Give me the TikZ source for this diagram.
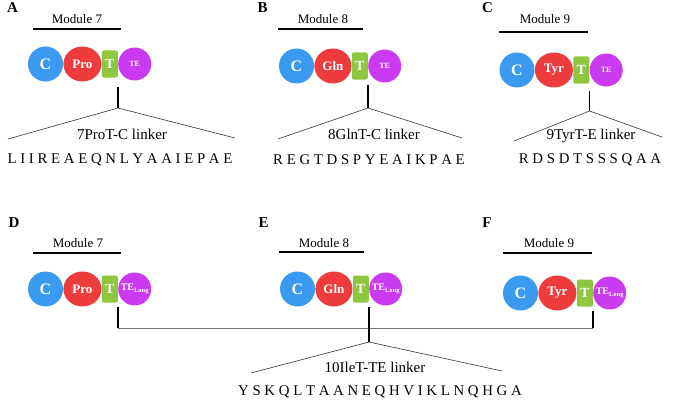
\documentclass[tikz,border=0pt]{standalone}
\usepackage{fontspec}
\setmainfont{Liberation Serif}
\usetikzlibrary{shapes.geometric, positioning, calc}

\definecolor{cblue}{HTML}{3A9AF0}
\definecolor{aared}{HTML}{EE3B3E}
\definecolor{tgreen}{HTML}{8DC63F}
\definecolor{tepurple}{HTML}{C93AF0}

\newcommand{\telong}{TE\raisebox{-2.5pt}{\fontsize{6.5}{6.5}\selectfont Long}}

\begin{document}
\begin{tikzpicture}[
    x=1pt, y=-1pt,
    node distance=0pt,
    every node/.style={inner sep=0pt},
    cdom/.style={circle, fill=cblue, minimum size=35pt, text=white, font=\fontsize{16}{16}\selectfont\bfseries},
    aadom/.style={ellipse, fill=aared, minimum width=38pt, minimum height=35pt, text=white, font=\fontsize{13}{13}\selectfont\bfseries},
    tdom/.style={rectangle, rounded corners=2pt, fill=tgreen, minimum width=16pt, minimum height=27pt, text=white, font=\fontsize{14}{14}\selectfont\bfseries},
    tedom/.style={circle, fill=tepurple, minimum size=33pt, text=white, font=\fontsize{8}{8}\selectfont\bfseries},
    tedomlong/.style={tedom, font=\fontsize{10}{10}\selectfont\bfseries},
    panel/.style={font=\fontsize{15}{15}\selectfont\bfseries},
    modlabel/.style={font=\fontsize{13}{13}\selectfont},
    modbar/.style={line width=1.8pt},
    stem/.style={line width=1.6pt},
    splay/.style={line width=0.6pt, black!80},
    joinline/.style={line width=0.8pt, black!55},
    linker/.style={font=\fontsize{15}{15}\selectfont},
    seq/.style={font=\fontsize{14.8}{14.8}\selectfont}
]
\useasboundingbox (0,0) rectangle (685,404);

% Panel A
\node (panA) [panel] at (12.5,8) {A};
\node (modA) [modlabel] at (77,19) {Module 7};
\draw [modbar] (33,29) -- (121,29);
\node (cA) [cdom] at (45.5,64) {C};
\node (aaA) [aadom, right=of cA] {Pro};
\node (tA) [tdom, right=of aaA] {T};
\node (teA) [tedom, right=of tA] {TE};
\coordinate (apexA) at (tA.south east |- 0,108);
\coordinate (leftA) at (8,139);
\coordinate (rightA) at (235,138);
\draw [stem, shorten <=9pt] (tA.south east) -- (apexA);
\draw [splay] (leftA) -- (apexA) -- (rightA);
\node (lnkA) [linker] at (122,134) {7ProT-C linker};
\node (seqA) [seq] at (120,160) {L I I R E A E Q N L Y A A I E P A E};

% Panel B
\node (panB) [panel] at (262.5,8) {B};
\node (modB) [modlabel] at (323,19) {Module 8};
\draw [modbar] (278,29) -- (363,29);
\node (cB) [cdom] at (296.5,66) {C};
\node (aaB) [aadom, minimum width=37pt, right=of cB] {Gln};
\node (tB) [tdom, right=of aaB] {T};
\node (teB) [tedom, right=of tB] {TE};
\coordinate (apexB) at (tB.south east |- 0,108);
\coordinate (leftB) at (278,139);
\coordinate (rightB) at (462,138);
\draw [stem, shorten <=5pt] (tB.south east) -- (apexB);
\draw [splay] (leftB) -- (apexB) -- (rightB);
\node (lnkB) [linker] at (374,134) {8GlnT-C linker};
\node (seqB) [seq] at (369,160) {R E G T D S P Y E A I K P A E};

% Panel C
\node (panC) [panel] at (487.5,8) {C};
\node (modC) [modlabel] at (545,19) {Module 9};
\draw [modbar] (499,32) -- (588,32);
\node (cC) [cdom] at (517,70) {C};
\node (aaC) [aadom, right=of cC] {Tyr};
\node (tC) [tdom, right=of aaC] {T};
\node (teC) [tedom, right=of tC] {TE};
\coordinate (apexC) at (tC.south east |- 0,111);
\coordinate (leftC) at (514,141);
\coordinate (rightC) at (662,137);
\draw [stem, shorten <=7pt] (tC.south east) -- (apexC);
\draw [splay] (leftC) -- (apexC) -- (rightC);
\node (lnkC) [linker] at (591,136) {9TyrT-E linker};
\node (seqC) [seq] at (590,160) {R D S D T S S S Q A A};

% Panel D
\node (panD) [panel] at (14,222.5) {D};
\node (modD) [modlabel] at (78,243) {Module 7};
\draw [modbar] (33,253) -- (121,253);
\node (cD) [cdom] at (45.5,289) {C};
\node (aaD) [aadom, right=of cD] {Pro};
\node (tD) [tdom, right=of aaD] {T};
\node (teD) [tedomlong, right=of tD] {\telong};

% Panel E
\node (panE) [panel] at (263.5,222.5) {E};
\node (modE) [modlabel] at (324,243) {Module 8};
\draw [modbar] (279,252) -- (364,252);
\node (cE) [cdom] at (297.5,289) {C};
\node (aaE) [aadom, minimum width=37pt, right=of cE] {Gln};
\node (tE) [tdom, right=of aaE] {T};
\node (teE) [tedomlong, right=of tE] {\telong};

% Panel F
\node (panF) [panel] at (487,223) {F};
\node (modF) [modlabel] at (549,243) {Module 9};
\draw [modbar] (503,253) -- (592,253);
\node (cF) [cdom] at (520.5,293) {C};
\node (aaF) [aadom, right=of cF] {Tyr};
\node (tF) [tdom, right=of aaF] {T};
\node (teF) [tedomlong, right=of tF] {\telong};

% Shared TE linker
\coordinate (joinD) at (tD.south east |- 0,328);
\coordinate (joinF) at (tF.south east |- 0,328);
\coordinate (apexE) at (tE.south east |- 0,342);
\coordinate (leftE) at (251,373);
\coordinate (rightE) at (502,371);
\draw [joinline] (joinD) -- (joinF);
\draw [stem, shorten <=4pt] (tD.south east) -- (joinD);
\draw [stem, shorten <=4pt] (tF.south east) -- (joinF);
\draw [stem, shorten <=4pt] (tE.south east) -- (apexE);
\draw [splay] (leftE) -- (apexE) -- (rightE);
\node (lnkE) [linker] at (375,367) {10IleT-TE linker};
\node (seqE) [seq] at (380,392) {Y S K Q L T A A N E Q H V I K L N Q H G A};

\end{tikzpicture}
\end{document}
